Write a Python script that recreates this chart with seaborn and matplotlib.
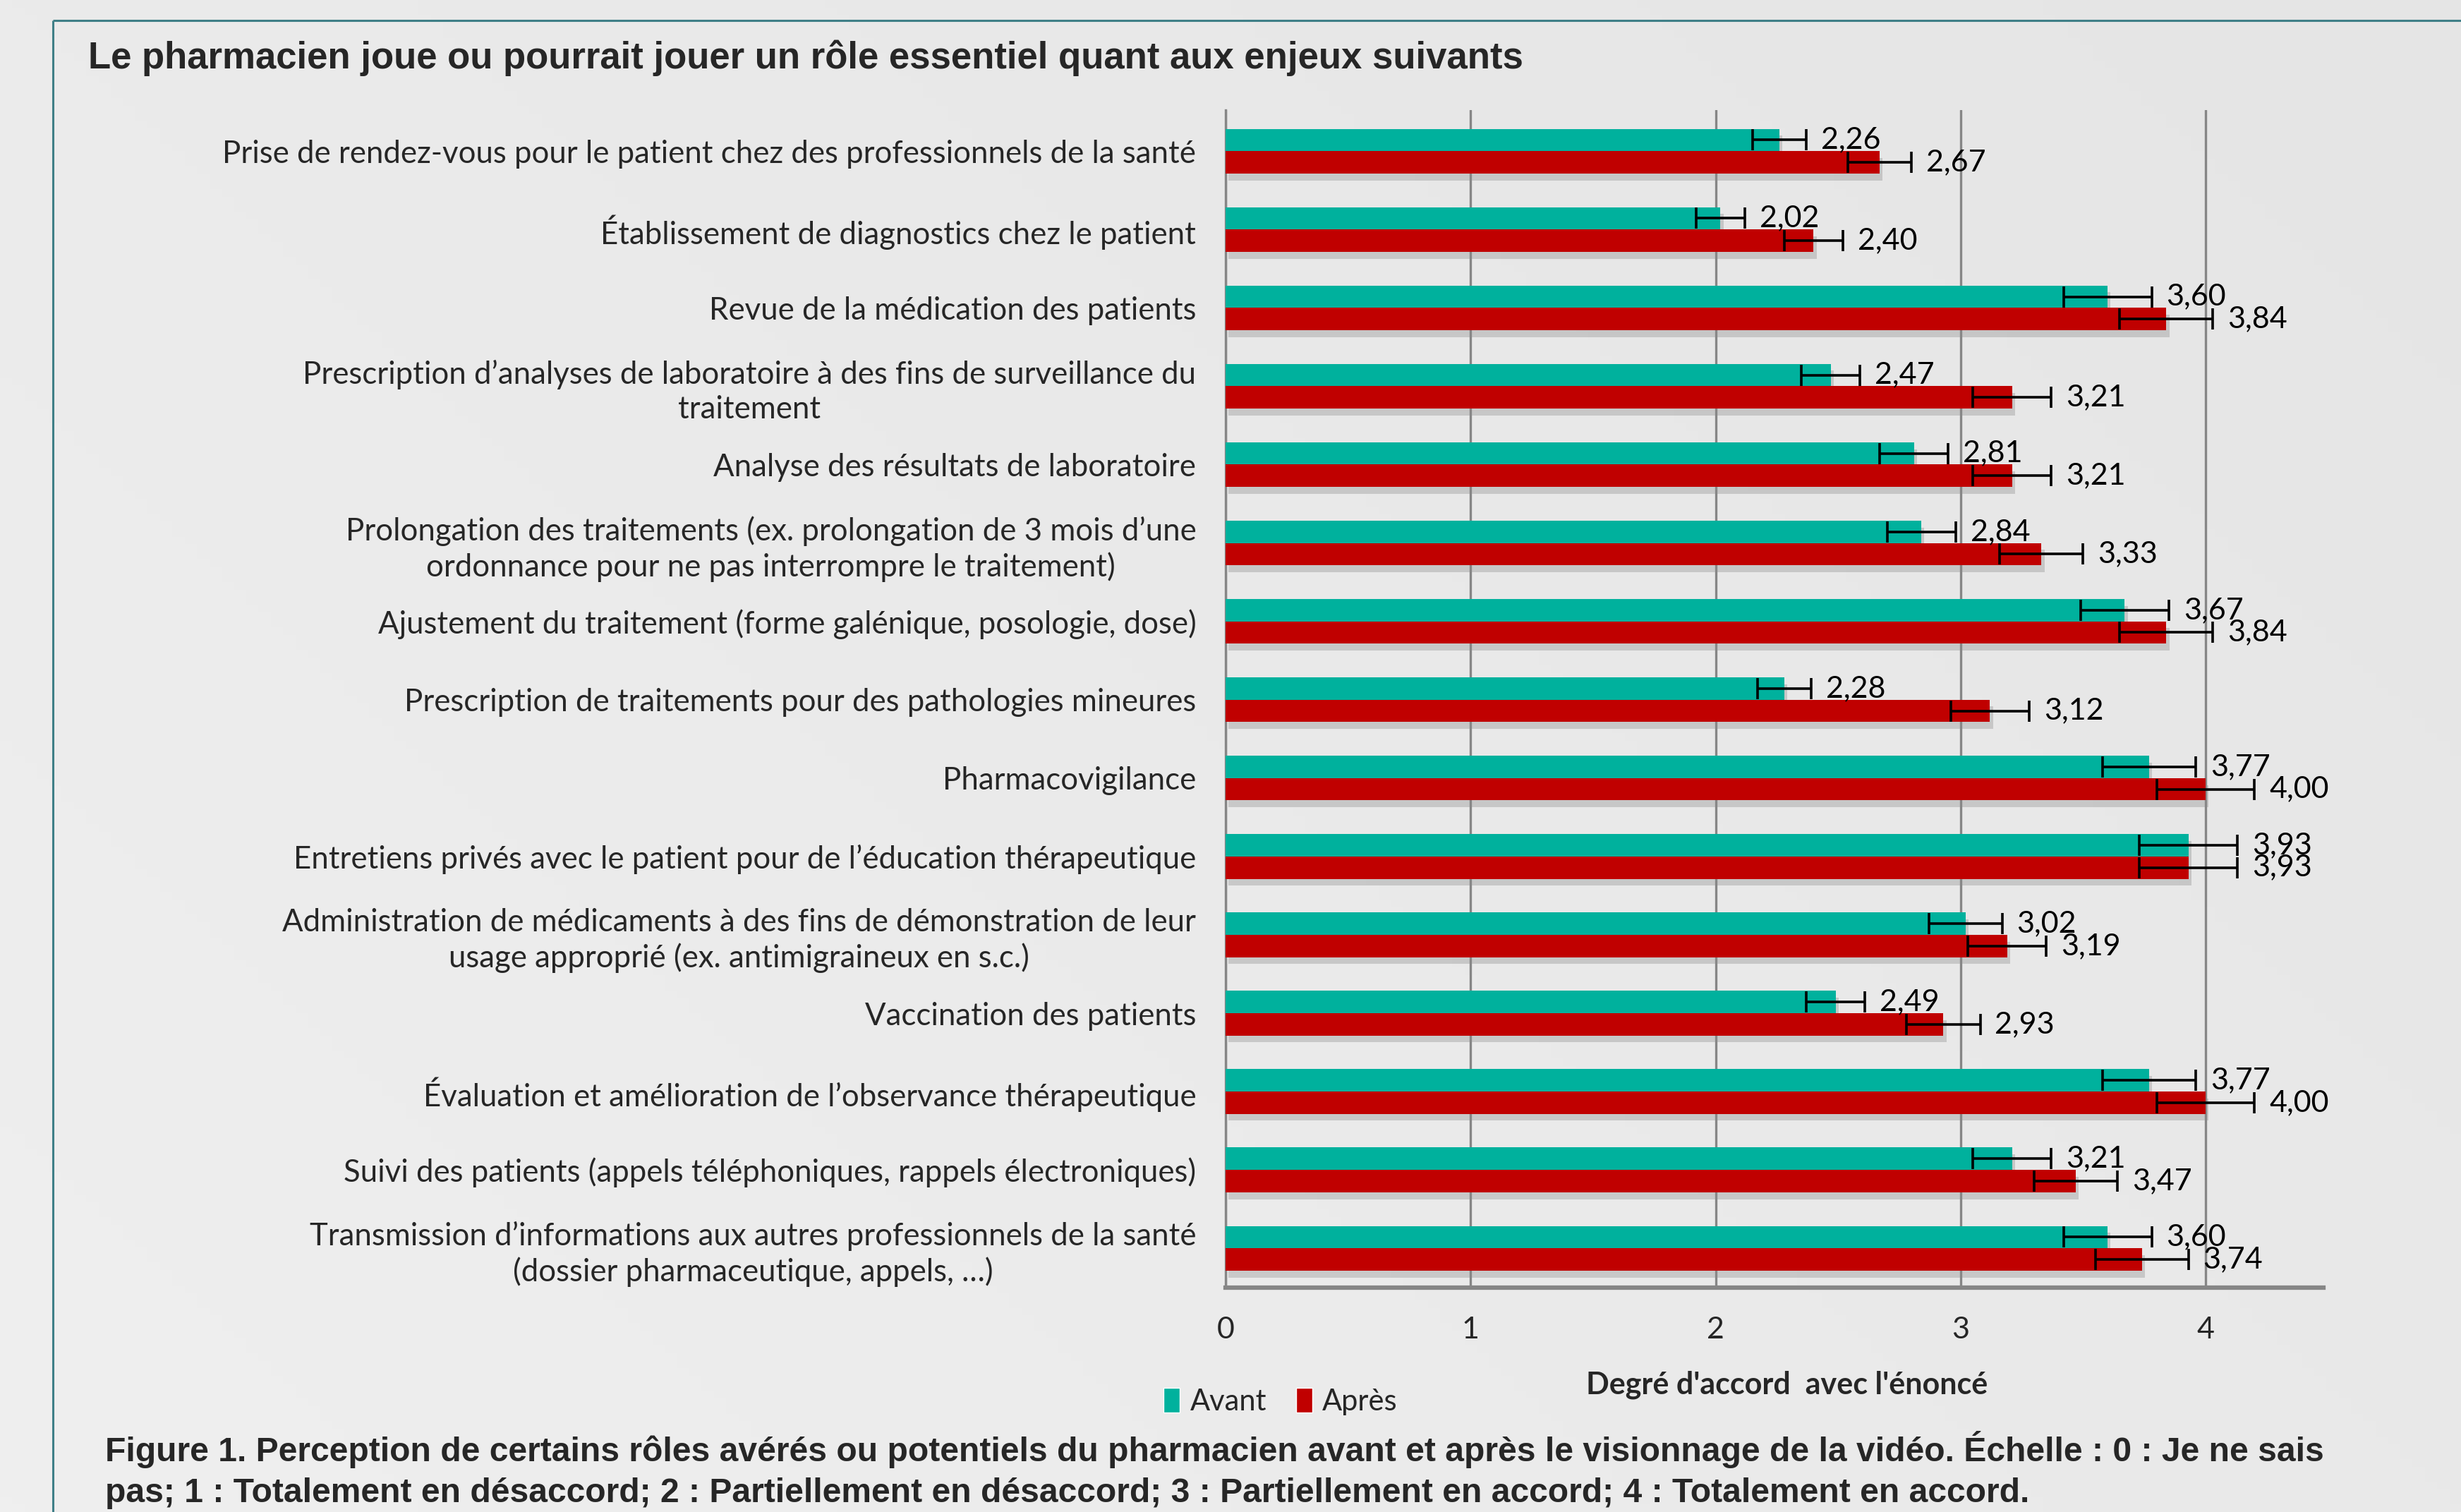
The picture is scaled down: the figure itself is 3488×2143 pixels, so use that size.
import numpy as np
import pandas as pd
import matplotlib
matplotlib.use("Agg")
import matplotlib.pyplot as plt
import matplotlib.patheffects as pe
from matplotlib.patches import Patch
import seaborn as sns

# donnees
enjeux = [
    "Prise de rendez-vous pour le patient chez des professionnels de la santé",
    "Établissement de diagnostics chez le patient",
    "Revue de la médication des patients",
    "Prescription d’analyses de laboratoire à des fins de surveillance du\ntraitement",
    "Analyse des résultats de laboratoire",
    "Prolongation des traitements (ex. prolongation de 3 mois d’une\nordonnance pour ne pas interrompre le traitement)",
    "Ajustement du traitement (forme galénique, posologie, dose)",
    "Prescription de traitements pour des pathologies mineures",
    "Pharmacovigilance",
    "Entretiens privés avec le patient pour de l’éducation thérapeutique",
    "Administration de médicaments à des fins de démonstration de leur\nusage approprié (ex. antimigraineux en s.c.)",
    "Vaccination des patients",
    "Évaluation et amélioration de l’observance thérapeutique",
    "Suivi des patients (appels téléphoniques, rappels électroniques)",
    "Transmission d’informations aux autres professionnels de la santé\n(dossier pharmaceutique, appels, …)",
]
avant = [2.26, 2.02, 3.60, 2.47, 2.81, 2.84, 3.67, 2.28, 3.77, 3.93, 3.02, 2.49, 3.77, 3.21, 3.60]
apres = [2.67, 2.40, 3.84, 3.21, 3.21, 3.33, 3.84, 3.12, 4.00, 3.93, 3.19, 2.93, 4.00, 3.47, 3.74]
avant_err = [0.11, 0.10, 0.18, 0.12, 0.14, 0.14, 0.18, 0.11, 0.19, 0.20, 0.15, 0.12, 0.19, 0.16, 0.18]
apres_err = [0.13, 0.12, 0.19, 0.16, 0.16, 0.17, 0.19, 0.16, 0.20, 0.20, 0.16, 0.15, 0.20, 0.17, 0.19]
periodes = ["Avant", "Après"]

titre = "Le pharmacien joue ou pourrait jouer un rôle essentiel quant aux enjeux suivants"
legende1 = ("Figure 1. Perception de certains rôles avérés ou potentiels du pharmacien avant et après "
            "le visionnage de la vidéo. Échelle : 0 : Je ne sais")
legende2 = ("pas; 1 : Totalement en désaccord; 2 : Partiellement en désaccord; 3 : Partiellement en "
            "accord; 4 : Totalement en accord.")
xlabel = "Degré d'accord  avec l'énoncé"

df = pd.DataFrame({
    "enjeu": enjeux * 2,
    "periode": ["Avant"] * len(enjeux) + ["Après"] * len(enjeux),
    "score": avant + apres,
})

sns.set_style("white")
plt.rcParams["font.family"] = ["Lato", "DejaVu Sans"]

teal = "#00B19D"
rouge = "#C00000"
gris = "#868686"

fig = plt.figure(figsize=(34.88, 21.43), dpi=100)
fig.patch.set_facecolor("#e9e9e9")

# fond degrade leger
bg = fig.add_axes([0, 0, 1, 1], zorder=-10)
gx, gy = np.meshgrid(np.linspace(0, 1, 200), np.linspace(0, 1, 200))
bg.imshow(0.6 * gx + 0.4 * (1 - gy), cmap=matplotlib.colors.LinearSegmentedColormap.from_list(
    "g", ["#efefef", "#e5e5e5"]), aspect="auto", extent=[0, 1, 0, 1], origin="upper")
bg.set_xlim(0, 1)
bg.set_ylim(0, 1)
bg.axis("off")
# cadre
bg.plot([0.0215, 1.0], [0.9865, 0.9865], color="#3f7f87", lw=2.2, solid_capstyle="butt")
bg.plot([0.0215, 0.0215], [0.0, 0.9865], color="#3f7f87", lw=2.2, solid_capstyle="butt")

ax = fig.add_axes([0.498, 0.1485, 0.446, 0.7785])
ax.set_facecolor("none")
sns.barplot(data=df, y="enjeu", x="score", hue="periode", hue_order=periodes,
            palette=[teal, rouge], width=0.57, errorbar=None, saturation=1,
            legend=False, ax=ax, zorder=3)

ombre = [pe.SimplePatchShadow(offset=(3, -7), shadow_rgbFace="#8a8a8a", alpha=0.35), pe.Normal()]
for cont, errs in zip(ax.containers, [avant_err, apres_err]):
    ys, ws = [], []
    for bar in cont:
        bar.set_edgecolor("none")
        bar.set_path_effects(ombre)
        ys.append(bar.get_y() + bar.get_height() / 2)
        ws.append(bar.get_width())
    ax.errorbar(ws, ys, xerr=errs, fmt="none", ecolor="black", elinewidth=2.6,
                capsize=11, capthick=2.6, zorder=5)
    for w, y, e in zip(ws, ys, errs):
        ax.annotate(f"{w:.2f}".replace(".", ","), (w + e, y), xytext=(15, 0),
                    textcoords="offset points", va="center", ha="left", fontsize=31,
                    color="black", zorder=6)

ax.set_xlim(0, 4.48)
ax.set_ylim(len(enjeux) - 0.5, -0.52)
ax.set_xticks([0, 1, 2, 3, 4])
ax.set_xticklabels(["0", "1", "2", "3", "4"], fontsize=31)
ax.xaxis.grid(True, color=gris, lw=2.4, zorder=0)
ax.yaxis.grid(False)
ax.set_xlabel("")
ax.set_ylabel("")
for s in ["top", "right"]:
    ax.spines[s].set_visible(False)
ax.spines["left"].set_color(gris)
ax.spines["left"].set_linewidth(2.4)
ax.spines["bottom"].set_color(gris)
ax.spines["bottom"].set_linewidth(4.5)
ax.tick_params(axis="x", direction="out", length=16, width=2.4, color=gris, pad=14)
ax.tick_params(axis="y", length=0, pad=30)
for lab in ax.get_yticklabels():
    lab.set_fontsize(31.5)
    lab.set_multialignment("center")
    lab.set_linespacing(1.25)

fig.text(0.0357, 0.9616, titre, fontsize=38, fontweight="bold", va="center", ha="left",
         family=["Liberation Sans", "DejaVu Sans"])
fig.text(0.726, 0.084, xlabel, fontsize=31, fontweight="bold", va="center", ha="center")
fig.text(0.0427, 0.0415, legende1, fontsize=34.6, fontweight="bold", va="center", ha="left",
         family=["Liberation Sans", "DejaVu Sans"])
fig.text(0.0427, 0.0125, legende2, fontsize=34.6, fontweight="bold", va="center", ha="left",
         family=["Liberation Sans", "DejaVu Sans"])

handles = [Patch(facecolor=teal, label="Avant"), Patch(facecolor=rouge, label="Après")]
fig.legend(handles=handles, loc="center left", bbox_to_anchor=(0.462, 0.073), ncol=2,
           frameon=False, fontsize=30, handlelength=0.55, handleheight=0.9,
           handletextpad=0.35, columnspacing=1.0)

fig.savefig("out.png", dpi=100, facecolor=fig.get_facecolor())
